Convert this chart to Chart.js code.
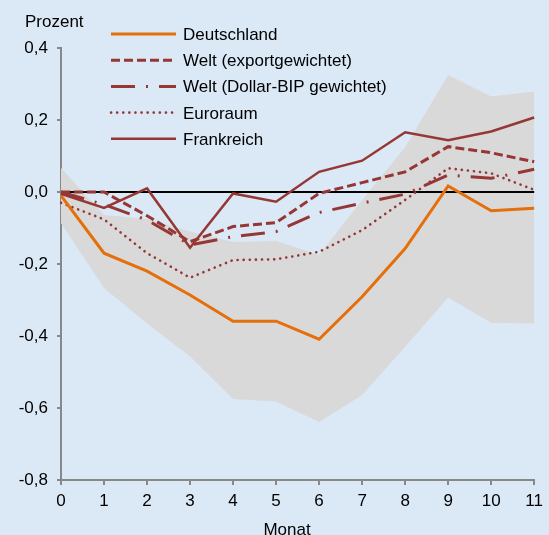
<!DOCTYPE html>
<html lang="de">
<head>
<meta charset="utf-8">
<script src="https://cdn.jsdelivr.net/npm/chart.js@4.4.1/dist/chart.umd.min.js"></script>
<style>
    html, body { margin: 0; padding: 0; background: #dbe8f6; }
    #wrap { width: 549px; height: 535px; }
</style>
</head>
<body>
<div id="wrap"><canvas id="irfChart" width="549" height="535"></canvas></div>
<script>
// Daten (Prozent, Monate 0-11)
const monate = [0, 1, 2, 3, 4, 5, 6, 7, 8, 9, 10, 11];
const deutschland = [-0.01, -0.17, -0.22, -0.286, -0.359, -0.359, -0.409, -0.291, -0.157, 0.017, -0.052, -0.045];
const weltExport = [0.0, 0.0, -0.066, -0.138, -0.096, -0.085, -0.004, 0.026, 0.056, 0.126, 0.109, 0.084];
const weltDollarBip = [0.0, -0.035, -0.078, -0.147, -0.124, -0.11, -0.057, -0.031, -0.006, 0.047, 0.038, 0.063];
const euroraum = [-0.03, -0.076, -0.17, -0.238, -0.189, -0.187, -0.166, -0.106, -0.022, 0.066, 0.052, 0.006];
const frankreich = [-0.005, -0.044, 0.01, -0.155, -0.004, -0.027, 0.056, 0.087, 0.166, 0.144, 0.168, 0.207];
const bandOben = [0.067, -0.064, -0.075, -0.11, -0.139, -0.136, -0.175, -0.022, 0.124, 0.325, 0.265, 0.279];
const bandUnten = [-0.087, -0.267, -0.365, -0.457, -0.575, -0.582, -0.639, -0.564, -0.43, -0.293, -0.363, -0.365];
const nullLinie = [0, 0, 0, 0, 0, 0, 0, 0, 0, 0, 0, 0];
const yTicks = [-0.8, -0.6, -0.4, -0.2, 0.0, 0.2, 0.4];

const ORANGE = '#e46f0b';
const DUNKELROT = '#953735';

function fmt(v) {
    if (Math.abs(v) < 1e-9) return '0,0';
    return v.toFixed(1).replace('.', ',');
}

// Legende und Beschriftungen von Hand zeichnen
const textPlugin = {
    id: 'texte',
    afterDraw(chart) {
        const c = chart.ctx;
        c.save();
        c.font = '17px Arial, "Liberation Sans", sans-serif';
        c.fillStyle = '#000';
        c.textBaseline = 'alphabetic';
        c.textAlign = 'left';
        c.fillText('Prozent', 25, 27);

        const legendY = 34;
        const step = 26.2;
        chart.data.datasets.filter(ds => ds.inLegend).forEach((ds, i) => {
            const y = legendY + i * step;
            c.save();
            c.strokeStyle = ds.borderColor;
            c.lineWidth = ds.borderWidth;
            c.lineCap = ds.borderCapStyle || 'butt';
            c.setLineDash(ds.borderDash || []);
            c.beginPath();
            c.moveTo(111, y);
            c.lineTo(176, y);
            c.stroke();
            c.restore();
            c.fillText(ds.label, 183, y + 6);
        });

        c.textAlign = 'center';
        c.fillText('Monat', 287, 535);
        c.restore();
    }
};

const ctx = document.getElementById('irfChart').getContext('2d');
const irfChart = new Chart(ctx, {
    type: 'line',
    data: {
        labels: monate,
        datasets: [
            {
                label: 'Band oben',
                data: bandOben,
                borderWidth: 0,
                backgroundColor: '#d9d9d9',
                fill: '+1',
                order: 10
            },
            {
                label: 'Band unten',
                data: bandUnten,
                borderWidth: 0,
                fill: false,
                order: 11
            },
            {
                label: 'Null',
                data: nullLinie,
                borderColor: '#000',
                borderWidth: 2,
                order: 8
            },
            {
                label: 'Deutschland',
                data: deutschland,
                borderColor: ORANGE,
                borderWidth: 3,
                inLegend: true,
                order: 1
            },
            {
                label: 'Welt (exportgewichtet)',
                data: weltExport,
                borderColor: DUNKELROT,
                borderWidth: 3,
                borderDash: [9, 4],
                inLegend: true,
                order: 2
            },
            {
                label: 'Welt (Dollar-BIP gewichtet)',
                data: weltDollarBip,
                borderColor: DUNKELROT,
                borderWidth: 3,
                borderDash: [24, 11, 2, 11],
                inLegend: true,
                order: 3
            },
            {
                label: 'Euroraum',
                data: euroraum,
                borderColor: DUNKELROT,
                borderWidth: 2.6,
                borderDash: [0.1, 6],
                borderCapStyle: 'round',
                inLegend: true,
                order: 4
            },
            {
                label: 'Frankreich',
                data: frankreich,
                borderColor: DUNKELROT,
                borderWidth: 2.5,
                inLegend: true,
                order: 0
            }
        ]
    },
    options: {
        responsive: false,
        animation: false,
        devicePixelRatio: 1,
        layout: { padding: { top: 48, right: 11, left: 0, bottom: 0 } },
        elements: { point: { radius: 0 }, line: { tension: 0 } },
        plugins: {
            legend: { display: false },
            tooltip: { enabled: false }
        },
        scales: {
            x: {
                offset: false,
                afterFit: scale => { scale.height = 55; },
                border: { color: '#888', width: 2 },
                grid: { drawOnChartArea: false, color: '#888', lineWidth: 2, tickLength: 5 },
                ticks: {
                    color: '#000',
                    padding: 6,
                    maxRotation: 0,
                    font: { family: 'Arial, "Liberation Sans", sans-serif', size: 17 }
                }
            },
            y: {
                min: -0.8,
                max: 0.4,
                afterFit: scale => { scale.width = 61; },
                afterBuildTicks: scale => { scale.ticks = yTicks.map(v => ({ value: v })); },
                border: { color: '#888', width: 2 },
                grid: { drawOnChartArea: false, color: '#888', lineWidth: 2, tickLength: 4 },
                ticks: {
                    color: '#000',
                    padding: 9,
                    font: { family: 'Arial, "Liberation Sans", sans-serif', size: 17 },
                    callback: value => fmt(value)
                }
            }
        }
    },
    plugins: [textPlugin]
});
</script>
</body>
</html>
